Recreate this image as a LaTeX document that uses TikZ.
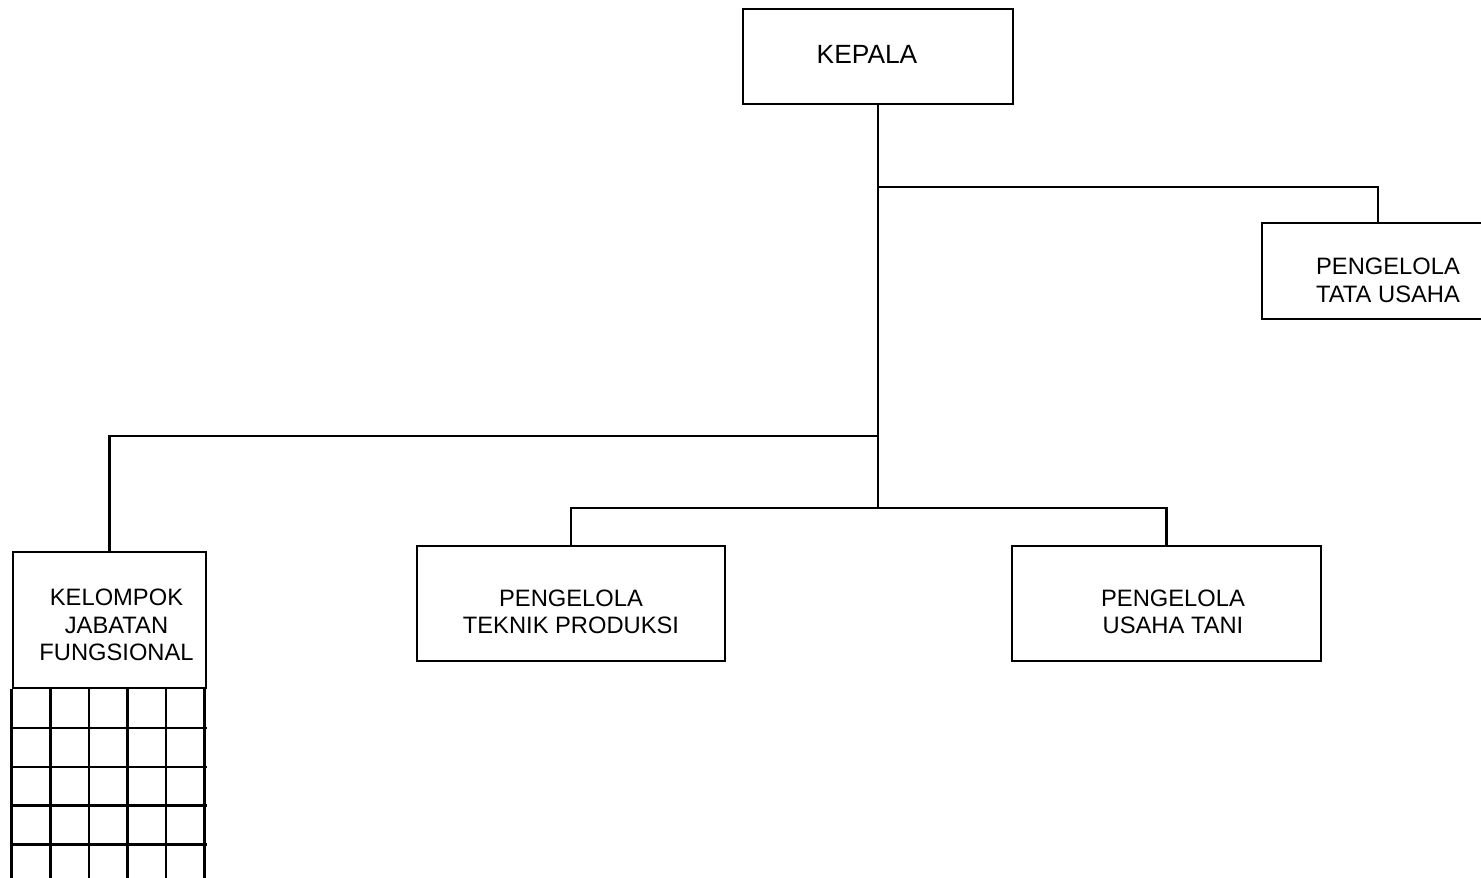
\documentclass[tikz,border=0pt]{standalone}
\usepackage{fontspec}
\setmainfont{Liberation Sans}
\usepackage{tikz}
\usetikzlibrary{positioning}

\begin{document}
\begin{tikzpicture}[
			box/.style={draw, rectangle, line width=1.5pt, inner sep=0pt},
			txt/.style={align=center, inner sep=0pt, font=\fontsize{13.5}{15.6}\selectfont},
			link/.style={line width=1.5pt}]
			
			\useasboundingbox (0,0) rectangle (29.62,-17.56);
			\clip (0,0) rectangle (29.62,-17.56);
			
			\node[box, minimum width=5.4cm, minimum height=1.9cm] (kepala) at (17.56,-1.13) {};
			\node[box, minimum width=4.64cm, minimum height=1.92cm] (tata) at (27.56,-5.42) {};
			\node[box, minimum width=3.86cm, minimum height=2.72cm] (kelompok) at (2.19,-12.4) {};
			\node[box, minimum width=6.16cm, minimum height=2.3cm] (teknik) at (11.42,-12.07) {};
			\node[box, minimum width=6.18cm, minimum height=2.3cm] (usaha) at (23.33,-12.07) {};
			
			\node[txt, font=\fontsize{15}{17}\selectfont] (kepala-t) at ([shift={(-0.22,0.05)}]kepala.center) {KEPALA};
			\node[txt] (tata-t) at ([shift={(0.2,-0.19)}]tata.center) {PENGELOLA\\TATA USAHA};
			\node[txt] (kelompok-t) at ([shift={(0.14,-0.1)}]kelompok.center) {KELOMPOK\\JABATAN\\FUNGSIONAL};
			\node[txt] (teknik-t) at ([shift={(0,-0.17)}]teknik.center) {PENGELOLA\\TEKNIK PRODUKSI};
			\node[txt] (usaha-t) at ([shift={(0.13,-0.17)}]usaha.center) {PENGELOLA\\USAHA TANI};
			
			% grid under the functional group
			\foreach \i in {0,...,5}
				\draw[link] ([xshift=\i*0.772cm]kelompok.south west) -- ++(0,-5);
			\foreach \j in {1,...,5}
				\draw[link] ([yshift=-\j*0.775cm]kelompok.south west) -- ([yshift=-\j*0.775cm]kelompok.south east);
			
			\coordinate (j1) at (17.56,-3.74);
			\coordinate (j2) at (17.56,-8.72);
			\coordinate (hub) at (17.56,-10.16);
			
			\draw[link] (kepala.south) -- (hub);
			\draw[link] (j1) -| (tata.north);
			\draw[link] (j2) -| (kelompok.north);
			\draw[link] (hub) -| (teknik.north);
			\draw[link] (hub) -| (usaha.north);
			
		\end{tikzpicture}
\end{document}
